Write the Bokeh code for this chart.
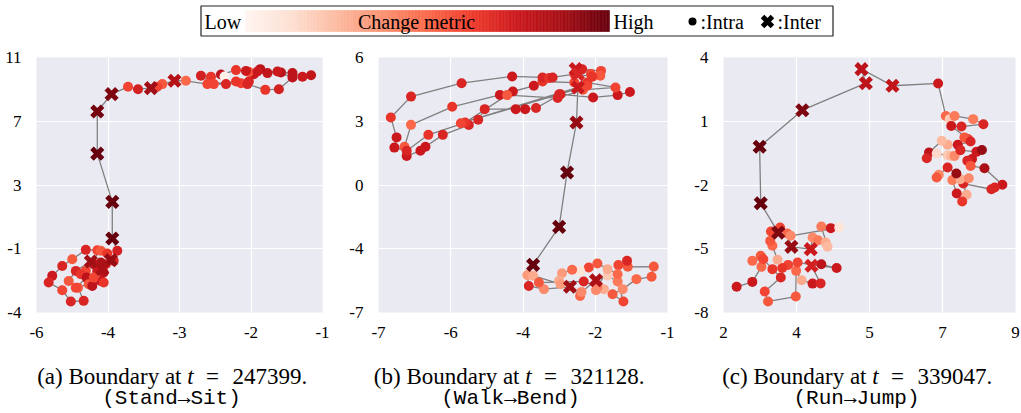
import numpy as np
from bokeh.plotting import figure
from bokeh.layouts import column, row
from bokeh.models import Range1d, FixedTicker, ColumnDataSource
from bokeh.transform import linear_cmap
from bokeh.core.properties import value
from bokeh.embed import file_html
from bokeh.resources import INLINE

# ---------------- data ----------------
# kind: 1 = inter (X marker), 0 = intra (circle); m = change metric (0 low .. 1 high)
a_x = [-1.16, -1.28, -1.42, -1.58, -1.77, -1.87, -1.96, -2.03, -2.07, -2.21, -2.42, -2.37, -2.56, -2.70,
       -2.52, -2.35, -2.14, -2.03, -1.91, -1.63, -1.42, -1.61, -1.80, -2.05, -2.21, -2.61, -2.91, -3.07,
       -3.24, -3.31, -3.40, -3.58, -3.72, -3.95, -4.15, -4.15, -3.94, -3.94, -3.87, -3.96, -4.15, -4.31,
       -4.50, -4.64, -4.78, -4.83, -4.64, -4.52, -4.34, -4.42, -4.55, -4.45, -4.24, -4.10, -4.01, -3.92,
       -4.03, -4.10, -4.20, -4.31, -4.38, -4.30, -4.45, -4.27, -4.22, -4.10, -4.06, -4.06, -4.08, -4.15, -4.20]
a_y = [9.89, 9.79, 10.02, 10.06, 10.02, 10.27, 9.95, 10.10, 10.16, 10.21, 9.93, 9.81, 9.79, 9.85,
       9.33, 9.33, 9.39, 9.49, 10.12, 10.12, 9.74, 9.01, 8.97, 9.33, 9.49, 9.33, 9.54, 9.54,
       9.33, 9.16, 9.08, 9.01, 9.16, 8.70, 7.61, 4.97, 1.94, -0.36, -1.13, -1.72, -1.09, -1.07,
       -1.66, -2.08, -2.70, -3.12, -3.60, -4.31, -4.27, -3.44, -3.02, -2.39, -1.80, -1.13, -1.30, -1.76,
       -1.97, -1.87, -1.97, -2.39, -2.60, -2.81, -3.44, -3.23, -3.33, -3.02, -3.12, -2.49, -2.28, -2.39, -2.81]
a_m = [0.78, 0.75, 0.80, 0.80, 0.78, 0.80, 0.75, 0.55, 0.75, 0.65, 0.80, 0.02, 0.65, 0.72,
       0.60, 0.70, 0.62, 0.70, 0.75, 0.75, 0.80, 0.72, 0.65, 0.70, 0.65, 0.60, 0.50, 0.82,
       0.55, 0.60, 0.88, 0.72, 0.60, 0.95, 0.97, 1.00, 1.00, 1.00, 0.72, 0.90, 0.60, 0.70,
       0.55, 0.70, 0.75, 0.70, 0.60, 0.70, 0.70, 0.55, 0.55, 0.70, 0.88, 0.55, 0.65, 0.70,
       0.70, 0.85, 0.80, 0.60, 0.65, 0.80, 0.60, 0.55, 0.80, 0.75, 0.65, 0.80, 0.85, 0.75, 0.60]
a_k = [0, 0, 0, 0, 0, 0, 0, 0, 0, 0, 0, 0, 0, 0,
       0, 0, 0, 0, 0, 0, 0, 0, 0, 0, 0, 0, 0, 1,
       0, 0, 1, 0, 0, 1, 1, 1, 1, 1, 0, 1, 0, 0,
       0, 0, 0, 0, 0, 0, 0, 0, 0, 0, 1, 0, 0, 0,
       0, 0, 0, 0, 0, 0, 0, 0, 0, 0, 0, 0, 1, 0, 0]

b_x = [-1.52, -1.69, -2.03, -2.48, -2.82, -2.97, -3.10, -3.53, -3.62, -3.75, -4.11, -4.35, -4.42, -4.61,
       -4.64, -4.55, -3.98, -3.32, -3.14, -2.85, -2.73, -2.29, -2.11, -1.72, -2.17, -2.52, -3.22, -3.80,
       -4.31, -4.61, -4.78, -4.75, -4.83, -4.55, -3.85, -3.15, -2.73, -2.64, -2.59, -2.29, -2.27, -2.18,
       -1.92, -1.93, -2.06, -2.04, -2.24, -2.11, -2.50, -3.86, -2.24,
       -2.26, -2.39, -2.50, -2.86,
       -2.94, -2.92, -2.71, -2.35, -2.21, -2.19, -1.99, -1.83, -1.69, -1.61, -1.76, -1.62, -1.43, -1.22,
       -1.19, -1.55, -1.56, -1.68, -1.69, -1.97, -2.09, -2.21, -2.32, -2.46, -2.50, -2.48, -2.86, -2.78,
       -2.16, -1.88, -1.97, -1.99, -1.83]
b_y = [4.38, 4.23, 4.12, 4.27, 3.62, 3.57, 3.57, 3.57, 3.07, 2.82, 2.36, 1.80, 1.61, 1.37,
       1.80, 2.83, 3.68, 4.24, 4.40, 4.67, 4.87, 4.82, 4.82, 4.59, 4.48, 4.09, 4.23, 2.94,
       2.36, 1.61, 1.76, 2.24, 3.18, 4.16, 4.79, 5.11, 5.06, 5.03, 5.06, 5.22, 5.45, 5.45,
       5.37, 5.14, 5.22, 5.09, 5.22, 4.67, 4.27, 2.91, 4.59,
       2.94, 0.59, -1.97, -3.76,
       -4.24, -4.75, -4.90, -4.79, -5.22, -5.03, -4.48, -4.27, -4.54, -5.48, -5.14, -4.90, -4.43, -4.32,
       -3.84, -3.85, -3.57, -3.77, -4.20, -3.69, -3.88, -4.04, -3.99, -4.15, -4.51, -4.67, -4.27, -4.59,
       -4.54, -4.90, -4.82, -4.95, -3.96]
b_m = [0.75, 0.75, 0.75, 0.70, 0.70, 0.75, 0.75, 0.70, 0.70, 0.70, 0.70, 0.75, 0.75, 0.75,
       0.55, 0.50, 0.65, 0.75, 0.75, 0.75, 0.65, 0.60, 0.65, 0.60, 0.55, 0.70, 0.55, 0.65,
       0.65, 0.70, 0.75, 0.75, 0.65, 0.70, 0.70, 0.75, 0.70, 0.65, 0.70, 0.60, 0.75, 0.70,
       0.60, 0.55, 0.60, 0.65, 0.70, 0.60, 0.70, 0.60, 0.75,
       0.90, 1.00, 1.00, 1.00,
       0.35, 0.70, 0.40, 0.88, 0.50, 0.40, 0.85, 0.20, 0.45, 0.60, 0.55, 0.40, 0.50, 0.55,
       0.55, 0.55, 0.70, 0.60, 0.50, 0.55, 0.60, 0.10, 0.50, 0.35, 0.30, 0.35, 0.30, 0.55,
       0.70, 0.30, 0.45, 0.40, 0.30]
b_k = [0, 0, 0, 0, 0, 0, 0, 0, 0, 0, 0, 0, 0, 0,
       0, 0, 0, 0, 0, 0, 0, 0, 0, 0, 0, 0, 0, 0,
       0, 0, 0, 0, 0, 0, 0, 0, 0, 0, 0, 0, 1, 0,
       0, 0, 0, 0, 1, 0, 0, 0, 1,
       1, 1, 1, 1,
       0, 0, 0, 1, 0, 0, 1, 0, 0, 0, 0, 0, 0, 0,
       0, 0, 0, 0, 0, 0, 0, 0, 0, 0, 0, 0, 0, 0,
       0, 0, 0, 0, 0]

c_x = [1.36, 1.79, 2.04, 2.02, 1.79, 2.09, 2.34, 2.57, 2.13, 2.22, 2.98, 2.99, 3.14, 3.44,
       3.66, 3.41, 3.68, 4.10, 3.03, 2.77, 2.61, 2.48, 2.34, 2.28, 2.30, 2.55, 2.75, 2.86,
       3.39, 3.44, 3.59, 3.80, 3.85, 3.68, 3.94, 4.17, 2.84, 2.50,
       2.02, 1.99, 3.16, 4.90, 4.78, 5.63, 6.88,
       7.09, 7.20, 7.33, 7.84, 8.12, 7.52, 7.24, 7.70, 7.60, 7.77, 7.42, 7.14, 6.98, 6.63,
       6.57, 6.84, 7.14, 7.24, 7.33, 7.49, 7.93, 8.08, 7.81, 7.68, 7.77, 8.15, 8.64, 8.43,
       8.34, 7.57, 7.66, 7.54, 7.39, 7.27, 7.49, 7.72, 7.38, 7.14, 6.90, 6.84]
c_y = [-6.79, -6.56, -5.85, -5.33, -5.57, -5.49, -5.96, -6.35, -7.01, -7.48, -7.25, -6.04, -6.48, -6.64,
       -6.63, -5.80, -5.73, -5.91, -5.65, -5.76, -5.91, -5.52, -4.86, -4.63, -4.19, -4.00, -4.28, -4.91,
       -5.02, -4.47, -4.60, -4.71, -4.91, -3.95, -4.03, -4.00, -4.39, -4.24,
       -2.86, -0.20, 1.52, 2.79, 3.45, 2.67, 2.78,
       1.25, 1.10, 1.25, 1.10, 0.86, 0.75, 0.78, 0.16, 0.24, 0.05, -0.11, -0.11, 0.08, -0.47,
       -0.74, -0.52, -0.60, -0.63, -0.63, -0.36, -0.44, -0.35, -0.78, -0.86, -1.10, -1.21, -1.99, -2.12,
       -2.20, -1.93, -2.46, -2.78, -2.40, -1.77, -1.73, -1.68, -1.46, -1.18, -1.52, -1.65]
c_m = [0.75, 0.75, 0.50, 0.55, 0.50, 0.60, 0.65, 0.70, 0.60, 0.55, 0.55, 0.50, 0.30, 0.75,
       0.70, 0.72, 0.80, 0.75, 0.60, 0.60, 0.65, 0.30, 0.50, 0.55, 0.60, 0.60, 0.50, 0.90,
       0.75, 0.40, 0.45, 0.30, 0.25, 0.45, 0.75, 0.10, 0.40, 0.95,
       1.00, 1.00, 0.95, 0.80, 0.80, 0.78, 0.75,
       0.50, 0.20, 0.45, 0.45, 0.70, 0.70, 0.75, 0.60, 0.55, 0.70, 0.75, 0.30, 0.25, 0.80,
       0.70, 0.15, 0.20, 0.25, 0.40, 0.70, 0.75, 0.90, 0.75, 0.70, 0.55, 0.85, 0.75, 0.70,
       0.70, 0.70, 0.30, 0.65, 0.75, 0.45, 0.30, 0.40, 0.90, 0.70, 0.40, 0.55]
c_k = [0, 0, 0, 0, 0, 0, 0, 0, 0, 0, 0, 0, 0, 0,
       0, 1, 0, 0, 0, 0, 0, 0, 0, 0, 0, 0, 0, 1,
       1, 0, 0, 0, 0, 0, 0, 0, 0, 1,
       1, 1, 1, 1, 1, 1, 0,
       0, 0, 0, 0, 0, 0, 0, 0, 0, 0, 0, 0, 0, 0,
       0, 0, 0, 0, 0, 0, 0, 0, 0, 0, 0, 0, 0, 0,
       0, 0, 0, 0, 0, 0, 0, 0, 0, 0, 0, 0]

a_xticks = [-5, -4, -3, -2, -1]
a_xlabels = ["-6", "-4", "-3", "-2", "-1"]
a_yticks = [-5, -1, 3, 7, 11]
a_ylabels = ["-4", "-1", "3", "7", "11"]
b_xticks = [-5, -4, -3, -2, -1]
b_xlabels = ["-7", "-6", "-4", "-2", "-1"]
b_yticks = [-6, -3, 0, 3, 6]
b_ylabels = ["-7", "-4", "0", "3", "6"]
c_xticks = [1, 3, 5, 7, 9]
c_xlabels = ["2", "4", "5", "7", "9"]
c_yticks = [-8, -5, -2, 1, 4]
c_ylabels = ["-8", "-5", "-2", "1", "4"]

captions = ["(a) Boundary at", "(b) Boundary at", "(c) Boundary at"]
cap_values = ["247399.", "321128.", "339047."]
cap_actions = ["(Stand\u2192Sit)", "(Walk\u2192Bend)", "(Run\u2192Jump)"]

# ---------------- colour map (ColorBrewer Reds, interpolated) ----------------
REDS9 = ["#fff5f0", "#fee0d2", "#fcbba1", "#fc9272", "#fb6a4a", "#ef3b2c", "#cb181d", "#a50f15", "#67000d"]
def _interp(pal, n):
    rgb = np.array([[int(c[i:i + 2], 16) for i in (1, 3, 5)] for c in pal], dtype=float)
    t0 = np.linspace(0, 1, len(pal))
    t1 = np.linspace(0, 1, n)
    out = np.stack([np.interp(t1, t0, rgb[:, j]) for j in range(3)], axis=1)
    return ["#%02x%02x%02x" % tuple(int(round(v)) for v in r) for r in out]
PALETTE = _interp(REDS9, 256)

SERIF = "Liberation Serif"
MONO = "Liberation Mono"


def panel(xs, ys, ms, ks, xr, yr, xt, xl, yt, yl, width, left, right):
    p = figure(width=width, height=298, x_range=Range1d(*xr), y_range=Range1d(*yr),
               output_backend="svg", toolbar_location=None,
               min_border_left=left, min_border_right=right, min_border_top=13, min_border_bottom=30,
               background_fill_color="#EAEAF2", border_fill_color="white", outline_line_color=None)
    xtk = FixedTicker(ticks=xt)
    ytk = FixedTicker(ticks=yt)
    p.xaxis.ticker = xtk
    p.yaxis.ticker = ytk
    p.xgrid.ticker = xtk
    p.ygrid.ticker = ytk
    p.xaxis.major_label_overrides = dict(zip(xt, xl))
    p.yaxis.major_label_overrides = dict(zip(yt, yl))
    for ax in (p.xaxis, p.yaxis):
        ax.axis_line_color = None
        ax.major_tick_line_color = None
        ax.minor_tick_line_color = None
        ax.major_label_text_font = SERIF
        ax.major_label_text_font_size = "17px"
        ax.major_label_text_color = "black"
    p.xaxis.major_label_standoff = 8
    p.yaxis.major_label_standoff = 9
    p.grid.grid_line_color = "white"
    p.grid.grid_line_width = 1.2

    p.line(xs, ys, line_color="#808080", line_width=1.3)
    k = np.array(ks)
    xs, ys, ms = np.array(xs), np.array(ys), np.array(ms)
    cmap = linear_cmap("m", palette=PALETTE, low=0, high=1)
    src_o = ColumnDataSource(dict(x=xs[k == 0], y=ys[k == 0], m=ms[k == 0]))
    src_x = ColumnDataSource(dict(x=xs[k == 1], y=ys[k == 1], m=ms[k == 1]))
    p.scatter("x", "y", source=src_o, marker="circle", size=10, fill_color=cmap, line_color=None)
    p.scatter("x", "y", source=src_x, marker="x", size=15, line_color=cmap, line_width=5)
    return p


pa = panel(a_x, a_y, a_m, a_k, (-5, -1), (-5, 11), a_xticks, a_xlabels, a_yticks, a_ylabels, 338, 36, 16)
pb = panel(b_x, b_y, b_m, b_k, (-5, -1), (-6, 6), b_xticks, b_xlabels, b_yticks, b_ylabels, 345, 40, 16)
pc = panel(c_x, c_y, c_m, c_k, (1, 9), (-8, 4), c_xticks, c_xlabels, c_yticks, c_ylabels, 337, 40, 5)

# ---------------- legend strip ----------------
W = 1020
leg = figure(width=W, height=44, x_range=Range1d(0, W), y_range=Range1d(44, 0),
             output_backend="svg", toolbar_location=None, min_border=0,
             x_axis_location=None, y_axis_location=None, outline_line_color=None,
             background_fill_color="white", border_fill_color="white")
leg.grid.visible = False
edges = np.linspace(245, 609, len(PALETTE) + 1)
leg.quad(left=edges[:-1], right=edges[1:], top=10, bottom=31, fill_color=PALETTE, line_color=PALETTE,
         line_width=0.6)
leg.quad(left=[200.5], right=[832.5], top=[5.5], bottom=[35.5], fill_color=None, line_color="#222222",
         line_width=1.2)
leg.text(x=[204, 416, 613, 700, 777], y=[21, 21, 21, 21, 21],
         text=["Low", "Change metric", "High", ":Intra", ":Inter"],
         text_font=value(SERIF), text_font_size="20px", text_baseline="middle",
         text_align=["left", "center", "left", "left", "left"], text_color="black")
leg.scatter([692], [21], marker="circle", size=8, fill_color="black", line_color=None)
leg.scatter([767], [21], marker="x", size=14, line_color="black", line_width=5)

# ---------------- captions ----------------
CH = 70
cap = figure(width=W, height=CH, x_range=Range1d(0, W), y_range=Range1d(CH, 0),
             output_backend="svg", toolbar_location=None, min_border=0,
             x_axis_location=None, y_axis_location=None, outline_line_color=None,
             background_fill_color="white", border_fill_color="white")
cap.grid.visible = False
t_pos = np.array([190, 528, 875])
line2_pos = np.array([171, 510, 856])
Y1, Y2, FS = 34, 56, "23px"
cap.text(x=t_pos - 9, y=[Y1] * 3, text=captions, text_font=value(SERIF), text_font_size=FS,
         text_align="right", text_baseline="alphabetic", text_color="black")
cap.text(x=t_pos, y=[Y1] * 3, text=["t"] * 3, text_font=value(SERIF), text_font_size=FS,
         text_font_style="italic", text_align="center", text_baseline="alphabetic", text_color="black")
cap.text(x=t_pos + 22, y=[Y1] * 3, text=["="] * 3, text_font=value(SERIF), text_font_size=FS,
         text_align="center", text_baseline="alphabetic", text_color="black")
cap.text(x=t_pos + 42, y=[Y1] * 3, text=cap_values, text_font=value(SERIF), text_font_size=FS,
         text_align="left", text_baseline="alphabetic", text_color="black")
cap.text(x=line2_pos, y=[Y2] * 3, text=cap_actions, text_font=value(MONO), text_font_size="21px",
         text_align="center", text_baseline="alphabetic", text_color="black")

layout = column(leg, row(pa, pb, pc), cap)
open("out.html", "w").write(file_html(layout, INLINE))
